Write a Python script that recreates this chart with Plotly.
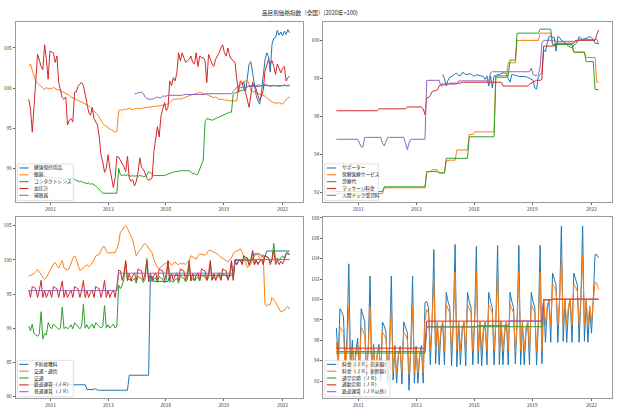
import plotly.graph_objects as go

W, H = 620, 413

# ---------------- data (monthly, Jan 2010 = index 0, last = May 2022) ----------------
TITLE = "品目別価格指数（全国）(2020年=100)"
TICK_LABELS = ["2011", "2013", "2016", "2019", "2022"]

# --- top-left panel ---
TL_NAMES = ["健康保持用品", "眼鏡", "コンタクトレンズ", "血圧計", "補聴器"]
TL_BLUE_START = 121
TL_BLUE = [100.3, 100.8, 99.6, 101.7, 103.0, 103.3, 102.0, 100.3, 99.1, 98.4, 98.0,
           99.5, 101.8, 103.5, 104.4, 103.9, 102.0, 105.5, 106.2, 106.3, 107.2, 106.6, 107.0,
           106.5, 107.1, 106.7, 107.3, 106.9]
TL_ORANGE = [102.8, 103.0, 102.2, 101.5, 100.9, 100.6, 100.4, 100.1, 100.0, 99.8, 100.1, 99.9,
             100.0, 99.9, 100.1, 99.9, 99.8, 99.8, 99.7, 99.6, 99.5, 99.4, 99.2, 99.1,
             98.9, 98.8, 98.7, 98.6, 98.5, 98.4, 98.3, 98.2, 98.1, 98.0, 97.8, 97.6,
             97.4, 97.2, 96.9, 96.7, 96.4, 96.0, 95.6, 95.4, 95.2, 95.1, 94.9, 94.8,
             94.6, 94.5, 94.6, 97.2, 97.3, 97.2, 97.4, 97.3, 97.4, 97.5, 97.4, 97.3,
             97.4, 97.5, 97.4, 97.5, 97.5, 97.5, 97.6, 97.6, 97.6, 97.7, 97.7, 97.7,
             97.7, 97.8, 97.8, 97.8, 97.9, 97.9, 98.0, 98.0, 98.2, 98.4, 98.6, 98.6,
             98.6, 98.7, 98.6, 98.7, 98.8, 98.9, 99.0, 99.1, 99.2, 99.2, 99.3, 99.3,
             99.4, 99.5, 99.4, 99.3, 99.3, 99.2, 99.1, 99.0, 98.9, 98.8, 98.9, 98.7,
             98.6, 98.6, 98.6, 98.5, 98.5, 98.5, 98.4, 98.4, 98.4, 98.4, 98.4, 100.3,
             100.5, 100.6, 100.8, 100.9, 101.0, 100.5, 99.7, 99.6, 99.5, 99.4, 99.3, 99.3,
             99.2, 99.1, 99.0, 98.8, 98.6, 98.4, 98.3, 98.2, 98.1, 98.1, 98.2, 98.1,
             98.0, 98.3, 98.6, 98.8, 98.9]
TL_GREEN = [89.5, 89.4, 89.3, 89.3, 89.2, 89.2, 89.1, 89.1, 89.0, 89.0, 89.0, 88.9,
            88.9, 88.9, 88.8, 88.8, 88.8, 88.8, 88.8, 88.8, 88.7, 88.7, 88.8, 88.8,
            88.8, 88.8, 88.6, 88.5, 88.5, 88.3, 88.4, 88.2, 88.2, 88.1, 88.2, 88.0,
            88.1, 88.0, 87.8, 87.6, 87.4, 87.1, 86.9, 86.9, 86.9, 86.9, 86.9, 86.9,
            86.9, 86.9, 86.9, 90.0, 89.2, 89.1, 89.2, 89.1, 89.2, 89.1, 89.0, 89.1,
            89.0, 89.1, 89.0, 89.1, 89.0, 89.0, 89.0, 89.2, 89.6, 89.4, 89.3, 89.1,
            89.1, 89.1, 89.1, 89.1, 89.1, 89.1, 89.2, 89.3, 89.4, 89.5, 89.6, 89.6,
            89.6, 89.7, 89.7, 89.7, 89.7, 89.7, 89.7, 89.7, 89.6, 89.3, 89.4, 89.2,
            89.3, 90.0, 90.5, 91.0, 95.8, 96.2, 96.1, 96.0, 96.0, 96.1, 96.2, 96.3,
            96.5, 96.6, 96.7, 96.8, 96.8, 96.9, 97.0, 97.0, 99.3, 99.4, 99.5, 99.5,
            99.6, 99.7, 99.8, 100.0, 100.2, 100.3, 100.3, 100.3, 100.3, 100.3, 100.4, 100.4,
            100.3, 100.3, 100.3, 100.3, 100.3, 100.3, 100.3, 100.3, 100.3, 100.3, 100.3, 100.3,
            100.3, 100.3, 100.3, 100.3, 100.3]
TL_RED = [98.6, 97.4, 94.5, 97.4, 101.1, 104.2, 103.5, 102.7, 102.3, 105.4, 103.6, 101.1,
          104.6, 104.5, 104.4, 103.2, 104.0, 100.7, 99.5, 98.8, 98.6, 98.9, 95.4, 96.0,
          96.2, 95.8, 99.5, 99.5, 100.3, 100.5, 100.7, 100.3, 99.1, 98.0, 97.0, 96.6,
          97.6, 96.2, 95.8, 95.4, 93.9, 91.7, 90.8, 89.5, 90.0, 91.7, 90.0, 88.8,
          87.6, 88.8, 91.5, 91.4, 91.0, 90.7, 90.2, 89.6, 91.5, 88.8, 88.4, 88.6,
          87.8, 88.4, 89.5, 91.3, 90.1, 89.9, 89.2, 88.8, 88.5, 88.6, 88.8, 92.1,
          93.7, 95.2, 93.9, 96.5, 97.4, 98.2, 97.2, 97.6, 100.9, 100.3, 101.3, 100.9,
          101.9, 104.4, 103.4, 104.4, 103.8, 103.2, 103.4, 103.6, 104.0, 103.2, 103.0, 104.4,
          102.7, 104.0, 103.8, 103.8, 103.4, 100.7, 104.2, 103.6, 103.0, 102.7, 103.6, 104.0,
          104.4, 105.0, 105.4, 104.4, 104.0, 105.0, 104.0, 103.6, 103.4, 103.2, 101.1, 99.5,
          100.9, 100.7, 99.9, 99.5, 98.5, 97.6, 99.1, 100.7, 100.3, 99.9, 99.1, 98.4,
          99.0, 99.7, 102.1, 103.0, 103.6, 103.0, 103.4, 102.7, 101.7, 103.0, 102.4, 101.9,
          102.5, 102.7, 100.9, 101.3, 101.5]
TL_PURPLE_START = 60
TL_PURPLE = [99.3, 99.3, 99.4, 99.5, 99.5, 99.3, 98.9, 98.7, 98.6, 98.6, 98.6, 98.7,
             98.8, 98.9, 98.8, 98.8, 99.0, 99.0, 99.0, 99.1, 99.1, 99.1, 99.1, 99.1,
             99.1, 99.1, 99.1, 99.1, 99.2, 99.2, 99.2, 99.2, 99.2, 99.2, 99.2, 99.2,
             99.2, 99.2, 99.2, 99.2, 99.2, 99.3, 99.3, 99.3, 99.3, 99.3, 99.3, 99.3,
             99.3, 99.3, 99.3, 99.3, 99.3, 99.3, 99.3, 99.3, 99.6, 99.9, 100.1, 100.1,
             100.1, 100.1, 100.1, 100.1, 100.2, 100.2, 100.2, 100.2, 100.2, 100.2, 100.2, 100.2,
             100.3, 100.4, 100.5, 100.4, 100.3, 100.2, 100.3, 100.3, 100.3, 100.3, 100.2, 100.3,
             100.3, 100.4, 100.3, 100.4, 100.4]

# --- top-right panel ---
TR_NAMES = ["サポーター", "保健医療サービス", "診療代", "マッサージ料金", "人間ドック受診料"]
TR_BLUE_START = 60
TR_BLUE = [98.2, 98.0, 97.6, 97.9, 98.05, 98.1, 98.15, 98.25, 98.27, 98.15, 98.15, 98.3,
           98.3, 98.2, 98.22, 98.27, 98.25, 98.15, 98.12, 98.2, 98.18, 98.15, 98.13, 98.1,
           97.95, 98.13, 97.6, 98.13, 97.5, 98.13, 98.15, 98.2, 98.2, 98.25, 98.3, 98.27,
           98.27, 98.0, 97.8, 98.2, 98.2, 98.15, 98.15, 98.1, 98.1, 98.13, 98.1, 98.1,
           98.05, 98.0, 97.95, 97.9, 97.5, 97.44, 98.1, 98.2, 98.3, 99.5, 99.4, 99.85,
           100.2, 100.2, 100.17, 100.15, 99.43, 100.2, 100.15, 100.0, 99.95, 99.85, 99.8, 99.7,
           99.65, 99.6, 99.75, 99.8, 99.9, 100.2, 100.1, 100.05, 100.1, 100.1, 100.15, 100.2,
           100.15, 100.05, 99.85, 99.83, 99.83]
TR_ORANGE = [91.95, 91.95, 91.95, 91.95, 91.95, 91.95, 91.95, 91.95, 91.95, 91.95, 91.95, 91.95,
             91.95, 91.95, 91.95, 91.95, 91.95, 91.95, 91.95, 91.95, 91.95, 91.95, 91.95, 91.95,
             91.95, 91.95, 91.95, 92.25, 92.25, 92.25, 92.25, 92.25, 92.25, 92.25, 92.25, 92.25,
             92.25, 92.25, 92.25, 92.25, 92.25, 92.25, 92.25, 92.25, 92.25, 92.25, 92.25, 92.25,
             92.25, 92.25, 92.25, 93.1, 93.1, 93.1, 93.2, 93.2, 93.2, 93.2, 93.03, 93.03,
             93.03, 93.03, 93.67, 93.7, 93.7, 93.7, 93.7, 93.7, 94.24, 94.24, 94.24, 94.24,
             94.24, 94.24, 94.24, 95.05, 95.05, 95.05, 95.19, 95.19, 95.19, 95.19, 95.19, 95.19,
             95.19, 95.19, 95.19, 95.19, 95.19, 95.19, 98.05, 98.05, 98.05, 98.05, 98.05, 98.05,
             98.05, 98.82, 98.82, 98.82, 98.82, 98.82, 100.0, 100.0, 100.0, 100.0, 100.0, 100.0,
             100.0, 100.0, 100.0, 100.0, 100.0, 100.0, 100.0, 100.38, 100.38, 100.38, 100.38, 100.38,
             100.38, 100.38, 99.78, 99.78, 99.78, 99.78, 99.78, 99.78, 99.78, 99.78, 99.78, 99.78,
             99.78, 99.78, 99.38, 99.38, 99.38, 99.38, 99.38, 99.38, 99.38, 99.1, 99.1, 99.1,
             99.1, 99.1, 99.1, 97.8, 97.8]
TR_GREEN = [92.05, 92.05, 92.05, 92.05, 92.05, 92.05, 92.05, 92.05, 92.05, 92.05, 92.05, 92.05,
            92.05, 92.05, 92.05, 92.05, 92.05, 92.05, 92.05, 92.05, 92.05, 92.05, 92.05, 92.05,
            92.05, 92.05, 92.05, 92.3, 92.3, 92.3, 92.3, 92.3, 92.3, 92.3, 92.3, 92.3,
            92.3, 92.3, 92.3, 92.3, 92.3, 92.3, 92.3, 92.3, 92.3, 92.3, 92.3, 92.3,
            92.3, 92.3, 92.3, 93.1, 93.1, 93.1, 93.1, 93.1, 93.1, 93.1, 93.03, 93.03,
            93.03, 93.03, 93.8, 93.8, 93.8, 93.8, 93.8, 93.8, 93.8, 93.8, 93.8, 93.8,
            93.8, 93.8, 93.8, 94.93, 94.93, 94.93, 94.93, 94.93, 94.93, 94.93, 94.93, 94.93,
            94.93, 94.93, 94.93, 94.93, 94.93, 94.93, 98.13, 98.13, 98.13, 98.13, 98.13, 98.13,
            98.13, 98.13, 98.96, 98.96, 98.96, 98.96, 100.38, 100.38, 100.38, 100.38, 100.38, 100.38,
            100.38, 100.38, 100.38, 100.38, 100.38, 100.38, 100.38, 100.59, 100.59, 100.59, 100.59, 100.59,
            100.59, 100.59, 99.78, 99.78, 99.78, 99.78, 99.78, 99.78, 99.78, 99.78, 99.78, 99.78,
            99.78, 99.78, 99.38, 99.38, 99.38, 99.38, 99.38, 99.38, 99.38, 98.88, 98.88, 98.88,
            98.88, 98.88, 97.42, 97.42, 97.42]
TR_RED = [96.3, 96.3, 96.3, 96.3, 96.3, 96.3, 96.3, 96.3, 96.3, 96.3, 96.3, 96.3,
          96.3, 96.3, 96.3, 96.3, 96.3, 96.3, 96.3, 96.3, 96.3, 96.3, 96.3, 96.3,
          96.4, 96.4, 96.4, 96.4, 96.4, 96.4, 96.4, 96.4, 96.4, 96.4, 96.4, 96.4,
          96.4, 96.4, 96.4, 96.4, 96.5, 96.5, 96.5, 96.5, 96.5, 96.5, 96.5, 96.5,
          96.5, 96.4, 96.1, 97.0, 97.0, 97.1, 97.3, 97.35, 97.35, 97.4, 97.6, 97.7,
          97.7, 97.7, 97.7, 97.7, 97.75, 97.75, 97.75, 97.75, 97.75, 97.75, 97.75, 97.8,
          97.8, 97.8, 97.8, 97.8, 97.8, 97.8, 97.8, 97.8, 97.8, 97.8, 97.8, 97.8,
          97.8, 97.8, 97.8, 97.8, 97.8, 97.8, 97.8, 97.8, 97.8, 97.8, 97.6, 97.6,
          97.6, 97.6, 97.6, 97.6, 97.6, 97.6, 97.6, 97.6, 97.6, 97.6, 97.6, 97.6,
          97.6, 97.7, 97.75, 97.8, 97.85, 97.9, 97.9, 97.9, 97.95, 99.7, 99.7, 99.7,
          99.7, 99.7, 99.7, 99.7, 99.85, 99.85, 99.85, 99.85, 99.85, 99.85, 99.85, 99.85,
          99.85, 99.85, 99.85, 100.0, 100.0, 100.0, 100.0, 100.0, 100.0, 100.0, 100.0, 100.0,
          100.0, 100.0, 100.0, 100.3, 100.55]
TR_PURPLE = [94.8, 94.8, 94.8, 94.8, 94.8, 94.8, 94.8, 94.8, 94.8, 94.8, 94.8, 94.8,
             94.8, 94.6, 94.4, 94.4, 94.9, 94.9, 94.9, 94.9, 94.9, 94.9, 94.9, 94.9,
             94.9, 94.9, 94.6, 94.45, 94.7, 94.9, 94.9, 94.9, 94.9, 94.9, 94.9, 94.9,
             94.9, 94.9, 94.9, 94.6, 94.25, 94.6, 94.8, 94.8, 94.8, 94.8, 94.8, 94.8,
             94.8, 94.8, 94.8, 97.9, 97.9, 97.9, 97.9, 97.9, 97.9, 97.9, 97.9, 97.6,
             97.6, 97.7, 97.7, 97.7, 97.7, 97.7, 97.7, 97.7, 97.7, 97.87, 97.87, 97.87,
             97.87, 97.87, 97.87, 97.87, 97.87, 97.87, 97.87, 97.87, 97.87, 97.87, 97.87, 97.87,
             97.87, 97.87, 97.87, 98.3, 98.35, 98.35, 98.35, 98.35, 98.35, 98.35, 98.35, 98.35,
             98.35, 98.35, 98.35, 98.35, 98.35, 98.35, 98.35, 98.35, 98.35, 98.35, 98.35, 98.35,
             98.35, 98.35, 98.55, 98.2, 98.15, 98.15, 98.2, 98.6, 99.85, 100.0, 100.0, 100.0,
             100.0, 100.0, 100.0, 100.0, 99.95, 99.95, 99.95, 99.95, 99.95, 99.95, 99.95, 99.95,
             99.95, 99.95, 99.95, 99.95, 99.95, 100.05, 100.05, 100.05, 100.05, 100.05, 100.05, 100.05,
             100.05, 100.05, 100.05, 100.05, 99.8]

# --- bottom-left panel ---
BL_NAMES = ["予防接種料", "交通・通信", "交通", "鉄道運賃（ＪＲ）", "普通運賃（ＪＲ）"]
BL_BLUE = [81.7, 81.7, 81.7, 81.7, 81.7, 81.7, 81.7, 81.7, 81.7, 81.7, 81.7, 81.7,
           81.7, 81.7, 81.7, 81.7, 81.7, 81.7, 81.7, 81.7, 81.7, 81.7, 81.7, 81.7,
           81.7, 81.7, 81.7, 81.7, 81.7, 81.7, 81.7, 81.7, 81.7, 81.0, 81.0, 81.0,
           81.0, 81.0, 81.15, 80.9, 80.9, 80.9, 80.9, 80.9, 80.9, 80.9, 80.9, 80.9,
           80.9, 80.9, 80.9, 80.9, 80.9, 80.9, 80.9, 80.9, 80.9, 83.1, 83.1, 83.1,
           83.1, 83.1, 83.1, 83.1, 83.1, 83.1, 83.1, 83.1, 83.1, 97.6, 97.6, 96.85,
           96.85, 96.85, 96.85, 96.85, 96.85, 96.85, 96.85, 96.85, 97.75, 97.75, 97.75, 97.75,
           97.75, 97.75, 97.75, 97.75, 97.75, 97.75, 97.75, 97.75, 97.75, 97.75, 97.75, 97.75,
           97.75, 97.75, 97.75, 97.75, 97.75, 97.75, 97.75, 97.75, 97.75, 97.75, 97.75, 97.75,
           97.75, 97.75, 97.75, 97.75, 97.75, 97.75, 97.75, 97.75, 97.75, 99.95, 99.95, 99.95,
           99.95, 99.95, 99.95, 99.95, 99.95, 99.95, 99.95, 99.95, 100.9, 100.9, 100.9, 100.9,
           100.55, 100.55, 100.55, 101.3, 101.3, 101.3, 101.3, 101.3, 101.3, 101.3, 101.3, 101.3,
           101.3, 101.3, 101.3, 101.3, 101.3]
BL_ORANGE = [97.6, 97.7, 97.8, 98.0, 98.3, 98.6, 98.2, 97.9, 97.4, 97.2, 97.4, 97.9,
             98.5, 99.0, 99.4, 99.6, 99.1, 98.8, 99.4, 99.9, 98.8, 98.7, 98.5, 98.8,
             99.6, 100.2, 100.6, 100.1, 99.2, 98.5, 98.6, 98.8, 99.1, 99.3, 99.0, 99.2,
             99.5, 100.0, 100.6, 100.7, 100.8, 101.4, 101.9, 101.9, 101.3, 101.0, 101.0, 101.0,
             101.0, 101.1, 101.6, 102.5, 104.1, 104.3, 104.8, 105.0, 104.6, 104.0, 103.5, 102.9,
             101.7, 100.6, 101.1, 101.4, 101.7, 102.2, 102.4, 102.1, 101.7, 101.3, 101.0, 100.0,
             99.3, 98.9, 98.7, 99.0, 99.2, 99.4, 99.5, 99.8, 99.6, 99.2, 99.5, 99.7,
             99.4, 99.3, 99.5, 99.4, 99.5, 99.3, 99.6, 99.9, 100.6, 100.4, 100.3, 100.1,
             100.6, 100.9, 100.8, 100.8, 100.7, 100.9, 101.4, 101.4, 101.3, 101.2, 101.0, 100.9,
             100.6, 100.4, 100.2, 100.1, 99.9, 99.7, 100.0, 100.3, 100.9, 101.2, 101.3, 101.5,
             101.6, 101.2, 100.4, 99.4, 98.9, 99.1, 99.4, 100.3, 100.6, 100.8, 100.7, 100.2,
             100.4, 100.8, 93.5, 93.3, 93.4, 93.5, 94.5, 94.2, 93.8, 93.3, 92.9, 92.4,
             92.5, 92.6, 93.0, 93.2, 92.8]
BL_GREEN = [90.3, 89.6, 90.6, 89.2, 89.0, 88.8, 89.2, 92.4, 88.4, 89.2, 89.0, 90.8,
            90.2, 89.9, 90.6, 90.3, 90.0, 89.8, 90.0, 93.1, 89.9, 90.2, 89.9, 90.1,
            90.5, 89.9, 90.8, 90.5, 90.3, 89.9, 90.3, 93.5, 90.0, 90.5, 89.9, 90.3,
            90.6, 90.0, 90.8, 90.5, 90.3, 90.0, 90.3, 93.3, 90.0, 90.5, 90.0, 90.3,
            90.6, 90.0, 90.3, 96.3, 95.8, 96.3, 97.2, 99.6, 97.0, 97.2, 96.9, 97.0,
            97.3, 96.6, 97.6, 97.4, 97.3, 96.7, 97.2, 100.2, 96.8, 97.2, 96.8, 97.2,
            97.4, 96.7, 97.6, 97.3, 97.2, 96.6, 97.0, 99.7, 96.7, 97.0, 96.7, 97.1,
            97.3, 96.6, 97.6, 97.4, 97.3, 96.8, 97.2, 99.3, 96.9, 97.3, 96.9, 97.3,
            97.5, 96.9, 97.8, 97.6, 97.5, 97.0, 97.4, 99.5, 97.1, 97.5, 97.1, 97.5,
            97.7, 97.1, 98.0, 97.8, 97.7, 97.2, 97.6, 99.7, 97.2, 99.6, 99.3, 99.8,
            100.0, 99.4, 100.6, 100.3, 100.0, 99.2, 99.8, 101.2, 99.3, 99.9, 99.4, 99.8,
            100.1, 99.5, 100.6, 100.5, 100.3, 99.7, 100.2, 102.4, 99.9, 100.3, 99.9, 100.3,
            100.6, 100.2, 101.0, 101.1, 100.7]
BL_RED = [95.6, 94.5, 96.1, 95.9, 95.8, 94.5, 95.5, 97.0, 94.5, 95.5, 94.5, 95.2,
          95.6, 94.5, 96.1, 95.9, 95.8, 94.5, 95.5, 96.9, 94.5, 95.5, 94.5, 95.2,
          95.6, 94.5, 96.1, 95.9, 95.8, 94.5, 95.5, 97.0, 94.5, 95.5, 94.5, 95.2,
          95.6, 94.5, 96.1, 95.9, 95.8, 94.5, 95.5, 97.0, 94.5, 95.5, 94.5, 95.2,
          95.6, 94.5, 96.1, 98.5, 98.4, 97.0, 98.0, 99.9, 97.0, 98.0, 97.0, 97.7,
          98.1, 97.0, 98.7, 98.5, 98.4, 97.0, 98.0, 99.9, 97.0, 98.0, 97.0, 97.7,
          98.1, 97.0, 98.7, 98.5, 98.4, 97.0, 98.0, 99.9, 97.0, 98.0, 97.0, 97.7,
          98.1, 97.0, 98.7, 98.5, 98.4, 97.0, 98.0, 99.9, 97.0, 98.0, 97.0, 97.7,
          98.1, 97.0, 98.7, 98.5, 98.4, 97.0, 98.0, 99.9, 97.0, 98.0, 97.0, 97.7,
          98.1, 97.0, 98.7, 98.5, 98.4, 97.0, 98.0, 99.9, 97.0, 100.0, 99.3, 99.8,
          100.1, 99.3, 100.6, 100.4, 100.3, 99.3, 100.0, 101.4, 99.3, 100.0, 99.3, 99.8,
          100.1, 99.3, 100.6, 100.4, 100.3, 99.3, 100.0, 101.4, 99.3, 100.0, 99.3, 99.8,
          99.4, 100.0, 100.9, 100.9, 100.8]
BL_PURPLE = [95.5, 95.5, 95.5, 95.5, 95.5, 95.5, 95.5, 95.5, 95.5, 95.5, 95.5, 95.5,
             95.5, 95.5, 95.5, 95.5, 95.5, 95.5, 95.5, 95.5, 95.5, 95.5, 95.5, 95.5,
             95.5, 95.5, 95.5, 95.5, 95.5, 95.5, 95.5, 95.5, 95.5, 95.5, 95.5, 95.5,
             95.5, 95.5, 95.5, 95.5, 95.5, 95.5, 95.5, 95.5, 95.5, 95.5, 95.5, 95.5,
             95.5, 95.5, 95.5, 98.05, 98.05, 98.05, 98.05, 98.05, 98.05, 98.05, 98.05, 98.05,
             98.05, 98.05, 98.05, 98.05, 98.05, 98.05, 98.05, 98.05, 98.05, 98.05, 98.05, 98.05,
             98.05, 98.05, 98.05, 98.05, 98.05, 98.05, 98.05, 98.05, 98.05, 98.05, 98.05, 98.05,
             98.05, 98.05, 98.05, 98.05, 98.05, 98.05, 98.05, 98.05, 98.05, 98.05, 98.05, 98.05,
             98.05, 98.05, 98.05, 98.05, 98.05, 98.05, 98.05, 98.05, 98.05, 98.05, 98.05, 98.05,
             98.05, 98.05, 98.05, 98.05, 98.05, 98.05, 98.05, 98.05, 98.05, 100.05, 100.05, 100.05,
             100.05, 100.05, 100.05, 100.05, 100.05, 100.05, 100.05, 100.05, 100.05, 100.05, 100.05, 100.05,
             100.05, 100.05, 100.05, 100.05, 100.05, 100.05, 100.05, 100.05, 100.05, 100.05, 100.05, 100.05,
             100.05, 100.05, 100.05, 100.05, 100.05]

# --- bottom-right panel ---
BR_NAMES = ["料金（ＪＲ，在来線）", "料金（ＪＲ，新幹線）", "通学定期（ＪＲ）", "通勤定期（ＪＲ）", "鉄道運賃（ＪＲ以外）"]
BR_BLUE = [97.2, 94.0, 99.1, 98.8, 98.3, 93.5, 96.3, 103.5, 93.0, 96.0, 92.8, 95.0,
           96.2, 92.3, 99.1, 98.4, 97.8, 92.2, 95.5, 102.3, 92.2, 95.6, 92.0, 94.5,
           95.6, 92.0, 97.8, 97.4, 96.8, 91.8, 95.4, 102.3, 92.1, 95.5, 91.8, 94.5,
           95.4, 91.7, 97.8, 97.3, 96.8, 91.1, 95.3, 102.3, 91.8, 95.4, 91.8, 94.4,
           95.5, 91.8, 99.7, 99.8, 99.2, 93.6, 97.8, 104.9, 93.7, 97.8, 93.6, 96.8,
           97.8, 93.6, 100.7, 99.8, 99.2, 93.5, 97.8, 105.4, 93.4, 97.8, 93.6, 96.8,
           97.8, 93.5, 100.7, 99.8, 99.2, 93.6, 97.8, 105.2, 93.7, 97.8, 93.5, 96.8,
           97.8, 93.6, 100.7, 99.8, 99.2, 93.6, 97.8, 105.3, 93.6, 97.8, 93.6, 96.8,
           97.8, 93.6, 100.7, 99.8, 99.2, 93.7, 97.8, 105.3, 93.6, 97.8, 93.6, 96.8,
           97.8, 93.6, 100.7, 99.8, 99.2, 93.6, 97.8, 105.3, 93.7, 99.8, 95.8, 99.0,
           100.0, 95.8, 102.6, 102.0, 101.4, 95.8, 100.0, 107.2, 95.9, 100.0, 95.8, 99.0,
           100.0, 95.8, 102.6, 102.0, 101.4, 95.8, 100.0, 107.2, 95.9, 100.0, 95.8, 99.0,
           96.7, 100.0, 104.4, 104.4, 104.1]
BR_ORANGE = [95.8, 93.3, 97.3, 97.1, 96.8, 93.0, 95.4, 99.3, 92.9, 95.3, 92.8, 94.6,
             95.5, 93.0, 97.3, 96.9, 96.5, 92.9, 95.2, 99.3, 92.9, 95.3, 92.8, 94.6,
             95.3, 92.9, 96.8, 96.5, 96.1, 92.8, 95.2, 99.3, 92.9, 95.2, 92.8, 94.6,
             95.2, 92.8, 96.8, 96.5, 96.1, 92.6, 95.1, 99.3, 92.8, 95.2, 92.8, 94.6,
             95.2, 92.8, 97.9, 99.0, 98.7, 95.1, 97.8, 101.9, 95.0, 97.8, 95.0, 97.2,
             97.8, 95.0, 99.5, 99.1, 98.7, 95.0, 97.8, 102.7, 95.0, 97.8, 95.0, 97.2,
             97.8, 95.0, 99.5, 99.1, 98.7, 95.0, 97.8, 102.7, 95.0, 97.8, 95.0, 97.2,
             97.8, 95.0, 99.5, 99.1, 98.7, 95.0, 97.8, 102.7, 95.0, 97.8, 95.0, 97.2,
             97.8, 95.0, 99.5, 99.1, 98.7, 95.0, 97.8, 102.7, 95.0, 97.8, 95.0, 97.2,
             97.8, 95.0, 99.5, 99.1, 98.7, 95.0, 97.8, 102.7, 95.0, 100.0, 97.5, 99.4,
             100.0, 97.5, 101.5, 101.2, 100.8, 97.5, 100.0, 104.3, 97.5, 100.0, 97.5, 99.4,
             100.0, 97.5, 101.5, 101.2, 100.8, 97.5, 100.0, 104.3, 97.5, 100.0, 97.5, 99.4,
             97.8, 99.8, 101.7, 101.6, 101.0]
BR_GREEN = [94.75, 94.75, 94.75, 94.75, 94.75, 94.75, 94.75, 94.75, 94.75, 94.75, 94.75, 94.75,
            94.75, 94.75, 94.75, 94.75, 94.75, 94.75, 94.75, 94.75, 94.75, 94.75, 94.75, 94.75,
            94.75, 94.75, 94.75, 94.75, 94.75, 94.75, 94.75, 94.75, 94.75, 94.75, 94.75, 94.75,
            94.75, 94.75, 94.75, 94.75, 94.75, 94.75, 94.75, 94.75, 94.75, 94.75, 94.75, 94.75,
            94.75, 94.75, 94.75, 97.33, 97.33, 97.33, 97.33, 97.33, 97.33, 97.33, 97.33, 97.33,
            97.33, 97.33, 97.33, 97.33, 97.33, 97.33, 97.33, 97.33, 97.33, 97.33, 97.33, 97.33,
            97.33, 97.33, 97.33, 97.33, 97.33, 97.33, 97.33, 97.33, 97.33, 97.33, 97.33, 97.33,
            97.33, 97.33, 97.33, 97.33, 97.33, 97.33, 97.33, 97.33, 97.33, 97.33, 97.33, 97.33,
            97.33, 97.33, 97.33, 97.33, 97.33, 97.33, 97.33, 97.33, 97.33, 97.33, 97.33, 97.33,
            97.33, 97.33, 97.33, 97.33, 97.33, 97.33, 97.33, 97.33, 97.33, 100.0, 100.0, 100.0,
            100.0, 100.0, 100.0, 100.0, 100.0, 100.0, 100.0, 100.0, 100.0, 100.0, 100.0, 100.0,
            100.0, 100.0, 100.0, 100.0, 100.0, 100.0, 100.0, 100.0, 100.0, 100.0, 100.0, 100.0,
            100.0, 100.0, 100.0, 100.0, 100.0]
BR_RED = [95.23, 95.23, 95.23, 95.23, 95.23, 95.23, 95.23, 95.23, 95.23, 95.23, 95.23, 95.23,
          95.23, 95.23, 95.23, 95.23, 95.23, 95.23, 95.23, 95.23, 95.23, 95.23, 95.23, 95.23,
          95.23, 95.23, 95.23, 95.23, 95.23, 95.23, 95.23, 95.23, 95.23, 95.23, 95.23, 95.23,
          95.23, 95.23, 95.23, 95.23, 95.23, 95.23, 95.23, 95.23, 95.23, 95.23, 95.23, 95.23,
          95.23, 95.23, 95.23, 97.88, 97.88, 97.88, 97.88, 97.88, 97.88, 97.88, 97.88, 97.88,
          97.88, 97.88, 97.88, 97.88, 97.88, 97.88, 97.88, 97.88, 97.88, 97.88, 97.88, 97.88,
          97.88, 97.88, 97.88, 97.88, 97.88, 97.88, 97.88, 97.88, 97.88, 97.88, 97.88, 97.88,
          97.88, 97.88, 97.88, 97.88, 97.88, 97.88, 97.88, 97.88, 97.88, 97.88, 97.88, 97.88,
          97.88, 97.88, 97.88, 97.88, 97.88, 97.88, 97.88, 97.88, 97.88, 97.88, 97.88, 97.88,
          97.88, 97.88, 97.88, 97.88, 97.88, 97.88, 97.88, 97.88, 97.88, 99.95, 99.95, 99.95,
          99.95, 99.95, 100.05, 100.05, 100.05, 100.05, 100.05, 100.05, 100.05, 100.05, 100.05, 100.05,
          100.05, 100.05, 100.05, 100.05, 100.05, 100.05, 100.05, 100.05, 100.05, 100.05, 100.05, 100.05,
          100.05, 100.05, 100.05, 100.05, 100.05]
BR_PURPLE = [94.9, 94.9, 94.9, 94.9, 94.9, 94.9, 94.9, 94.9, 94.9, 94.9, 94.9, 94.9,
             94.9, 94.9, 94.9, 94.9, 94.9, 94.9, 94.9, 94.9, 94.9, 94.9, 94.9, 94.9,
             94.9, 94.9, 94.9, 94.9, 94.9, 94.9, 94.9, 94.9, 94.9, 94.9, 94.9, 94.9,
             94.9, 94.9, 94.9, 94.9, 94.9, 94.9, 94.9, 94.9, 94.9, 94.9, 94.9, 94.9,
             94.9, 94.9, 94.9, 97.3, 97.3, 97.3, 97.3, 97.3, 97.3, 97.3, 97.3, 97.3,
             97.3, 97.3, 97.3, 97.3, 97.3, 97.3, 97.3, 97.3, 97.3, 97.3, 97.3, 97.3,
             97.3, 97.3, 97.3, 97.3, 97.3, 97.3, 97.3, 97.3, 97.45, 97.45, 97.45, 97.45,
             97.45, 97.45, 97.45, 97.45, 97.45, 97.45, 97.45, 97.45, 97.45, 97.45, 97.45, 97.45,
             97.45, 97.45, 97.9, 97.9, 97.9, 97.9, 97.9, 97.9, 97.9, 97.9, 97.9, 97.9,
             97.9, 97.9, 97.9, 97.9, 97.9, 97.9, 97.9, 97.9, 97.9, 100.0, 100.0, 100.0,
             100.0, 100.0, 100.0, 100.0, 100.0, 100.0, 100.0, 100.0, 100.0, 100.0, 100.0, 100.0,
             100.0, 100.0, 100.0, 100.0, 100.0, 100.0, 100.0, 100.0, 100.0, 100.0, 100.0, 100.0,
             100.0, 100.0, 100.0, 100.0, 100.0]

# ---------------- styling / layout ----------------
COLORS = ["#1f77b4", "#ff7f0e", "#2ca02c", "#d62728", "#9467bd"]
FONT = "Noto Sans CJK JP, Noto Sans, DejaVu Sans, sans-serif"

# axes boxes in pixels: (left, right, top, bottom)
BOXES = {
    "TL": (15.7, 302.7, 19.5, 201.0),
    "TR": (323.3, 611.7, 19.5, 201.0),
    "BL": (15.7, 302.7, 216.0, 399.3),
    "BR": (323.3, 611.7, 216.0, 399.3),
}
LEGEND_RIGHT = {"TL": 73.3, "TR": 378.3, "BL": 73.3, "BR": 390.0}
YRANGES = {"TL": (85.8, 108.2), "TR": (91.5, 100.95), "BL": (79.7, 106.3), "BR": (90.3, 108.1)}
YTICKS = {"TL": [90, 95, 100, 105], "TR": [92, 94, 96, 98, 100],
          "BL": [80, 85, 90, 95, 100, 105], "BR": [92, 94, 96, 98, 100, 102, 104, 106, 108]}
XTICK_POS = [12.4, 45.1, 77.7, 110.6, 144.0]

PANELS = {
    "TL": (TL_NAMES, [(TL_BLUE_START, TL_BLUE), (0, TL_ORANGE), (0, TL_GREEN), (0, TL_RED),
                      (TL_PURPLE_START, TL_PURPLE)]),
    "TR": (TR_NAMES, [(TR_BLUE_START, TR_BLUE), (0, TR_ORANGE), (0, TR_GREEN), (0, TR_RED), (0, TR_PURPLE)]),
    "BL": (BL_NAMES, [(0, BL_BLUE), (0, BL_ORANGE), (0, BL_GREEN), (0, BL_RED), (0, BL_PURPLE)]),
    "BR": (BR_NAMES, [(0, BR_BLUE), (0, BR_ORANGE), (0, BR_GREEN), (0, BR_RED), (0, BR_PURPLE)]),
}
AXIS_IDS = {"TL": "", "TR": "2", "BL": "3", "BR": "4"}

def px(x):
    return x / W

def py(y):
    return 1 - y / H

fig = go.Figure()
shapes = []
annotations = []
NMAX = 149
xr = (-0.05 * (NMAX - 1), (NMAX - 1) * 1.05)

for key, (names, series) in PANELS.items():
    aid = AXIS_IDS[key]
    l, r, t, b = BOXES[key]
    for i, (start, vals) in enumerate(series):
        fig.add_trace(go.Scatter(
            x=list(range(start, start + len(vals))), y=vals, mode="lines",
            name=names[i], showlegend=False,
            line=dict(color=COLORS[i], width=1.0),
            xaxis="x" + aid, yaxis="y" + aid, hoverinfo="skip"))
    common = dict(showline=True, linecolor="#9a9a9a", linewidth=1, mirror=True,
                  showgrid=False, zeroline=False, ticks="outside", ticklen=2,
                  tickwidth=0.6, tickcolor="#666",
                  tickfont=dict(size=4.8, color="#333", family=FONT))
    fig.layout["xaxis" + aid] = dict(domain=[px(l), px(r)], range=list(xr),
                                     anchor="y" + aid, tickmode="array",
                                     tickvals=XTICK_POS, ticktext=TICK_LABELS, **common)
    fig.layout["yaxis" + aid] = dict(domain=[py(b), py(t)], range=list(YRANGES[key]),
                                     anchor="x" + aid, tickmode="array",
                                     tickvals=YTICKS[key], **common)
    # manual legend (matplotlib style, lower left)
    lx0 = l + 1.6
    lx1 = LEGEND_RIGHT[key]
    lyb = b - 1.7
    lyt = lyb - 36.8
    shapes.append(dict(type="rect", xref="paper", yref="paper",
                       x0=px(lx0), x1=px(lx1), y0=py(lyb), y1=py(lyt),
                       fillcolor="rgba(255,255,255,0.8)",
                       line=dict(color="#d4d4d4", width=0.7), layer="above"))
    for i, name in enumerate(names):
        yc = lyt + 4.1 + 6.9 * i
        shapes.append(dict(type="line", xref="paper", yref="paper",
                           x0=px(lx0 + 2.0), x1=px(lx0 + 11.3), y0=py(yc), y1=py(yc),
                           line=dict(color=COLORS[i], width=1.1), layer="above"))
        annotations.append(dict(text=name, xref="paper", yref="paper",
                                x=px(lx0 + 14.6), y=py(yc), xanchor="left", yanchor="middle",
                                showarrow=False, font=dict(size=4.7, color="#222", family=FONT)))

annotations.append(dict(text=TITLE, xref="paper", yref="paper", x=0.5, y=py(10.5),
                        xanchor="center", yanchor="middle", showarrow=False,
                        font=dict(size=5.6, color="#222", family=FONT)))

fig.update_layout(width=W, height=H, margin=dict(l=0, r=0, t=0, b=0),
                  paper_bgcolor="white", plot_bgcolor="white",
                  shapes=shapes, annotations=annotations, showlegend=False)

fig.write_html("out.html")
